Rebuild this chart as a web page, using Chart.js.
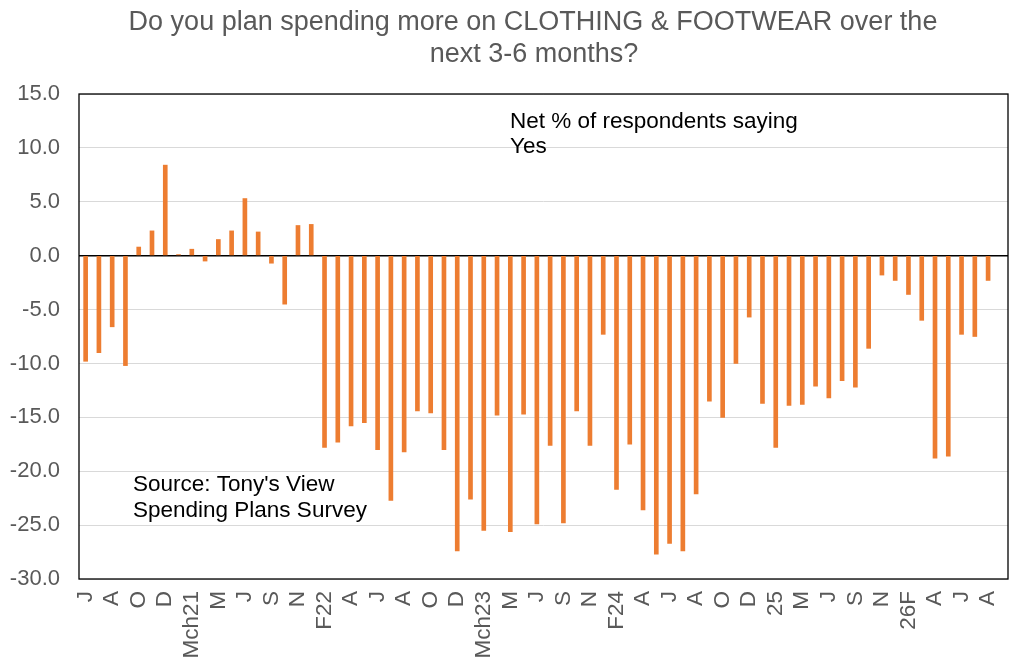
<!DOCTYPE html>
<html>
<head>
<meta charset="utf-8">
<script src="https://cdn.jsdelivr.net/npm/chart.js@4"></script>
<style>
  html, body { margin: 0; padding: 0; background: #ffffff; }
  #wrap { width: 1024px; height: 669px; position: relative; }
</style>
</head>
<body>
<div id="wrap"><canvas id="c"></canvas></div>
<script>
// ---- data ----
const titleLines = ["Do you plan spending more on CLOTHING & FOOTWEAR over the", "next 3-6 months?"];
const noteLines = ["Net % of respondents saying", "Yes"];
const sourceLines = ["Source: Tony's View", "Spending Plans Survey"];

const categories = [
  "J","","A","","O","","D","","Mch21","",
  "M","","J","","S","","N","","F22","",
  "A","","J","","A","","O","","D","",
  "Mch23","","M","","J","","S","","N","",
  "F24","","A","","J","","A","","O","",
  "D","","25","","M","","J","","S","",
  "N","","26F","","A","","J","","A",""
];
const netYes = [
  -9.8, -9.0, -6.6, -10.2, 0.8, 2.3, 8.4, 0.1, 0.6, -0.5,
  1.5, 2.3, 5.3, 2.2, -0.7, -4.5, 2.8, 2.9, -17.8, -17.3,
  -15.8, -15.5, -18.0, -22.7, -18.2, -14.4, -14.6, -18.0, -27.4, -22.6,
  -25.5, -14.8, -25.6, -14.7, -24.9, -17.6, -24.8, -14.4, -17.6, -7.3,
  -21.7, -17.5, -23.6, -27.7, -26.7, -27.4, -22.1, -13.5, -15.0, -10.0,
  -5.7, -13.7, -17.8, -13.9, -13.8, -12.1, -13.2, -11.6, -12.2, -8.6,
  -1.8, -2.3, -3.6, -6.0, -18.8, -18.6, -7.3, -7.5, -2.3, null
];
const yTicks = { min: -30, max: 15, step: 5 };

// ---- styles ----
const FONT = "'Liberation Sans', Arial, sans-serif";
const GREY = "#595959";
const BAR = "#ED7D31";

const textPlugin = {
  id: 'texts',
  afterDraw(chart) {
    const ctx = chart.ctx;
    const a = chart.chartArea;
    ctx.save();
    // plot frame
    ctx.strokeStyle = "#000000";
    ctx.lineWidth = 1.3;
    ctx.strokeRect(a.left, a.top, a.right - a.left, a.bottom - a.top);
    // title
    ctx.fillStyle = GREY;
    ctx.font = "27px " + FONT;
    ctx.textAlign = "center";
    ctx.textBaseline = "middle";
    ctx.fillText(titleLines[0], 533, 23);
    ctx.fillText(titleLines[1], 534, 55);
    // annotations
    ctx.fillStyle = "#000000";
    ctx.font = "22.5px " + FONT;
    ctx.textAlign = "left";
    ctx.fillText(noteLines[0], 510, 122);
    ctx.fillText(noteLines[1], 510, 147);
    ctx.fillText(sourceLines[0], 133, 485);
    ctx.fillText(sourceLines[1], 133, 511);
    ctx.restore();
  }
};

new Chart(document.getElementById('c'), {
  type: 'bar',
  data: {
    labels: categories,
    datasets: [{
      label: 'Net % saying Yes',
      data: netYes,
      backgroundColor: BAR,
      borderWidth: 0,
      barThickness: 4
    }]
  },
  options: {
    responsive: true,
    maintainAspectRatio: false,
    animation: false,
    layout: { padding: { top: 94, left: 0, right: 16, bottom: 0 } },
    plugins: {
      legend: { display: false },
      title: { display: false },
      tooltip: { enabled: false }
    },
    scales: {
      x: {
        grid: { display: false, drawTicks: false },
        border: { display: false },
        ticks: {
          autoSkip: false,
          minRotation: 90,
          maxRotation: 90,
          color: GREY,
          padding: 12,
          font: { family: FONT, size: 22.5 }
        },
        afterFit(scale) {
          scale.height = 90;
          scale.paddingLeft = 0;
          scale.paddingRight = 0;
        }
      },
      y: {
        min: yTicks.min,
        max: yTicks.max,
        grid: {
          drawTicks: false,
          color: (c) => (c.tick && c.tick.value === 0) ? "#000000" : "#D9D9D9",
          lineWidth: (c) => (c.tick && c.tick.value === 0) ? 1.5 : 1
        },
        border: { display: false },
        ticks: {
          stepSize: yTicks.step,
          color: GREY,
          padding: 19,
          font: { family: FONT, size: 22 },
          callback: (v) => Number(v).toFixed(1)
        },
        afterFit(scale) {
          scale.width = 79;
          scale.paddingTop = 0;
          scale.paddingBottom = 0;
        }
      }
    }
  },
  plugins: [textPlugin]
});
</script>
</body>
</html>
